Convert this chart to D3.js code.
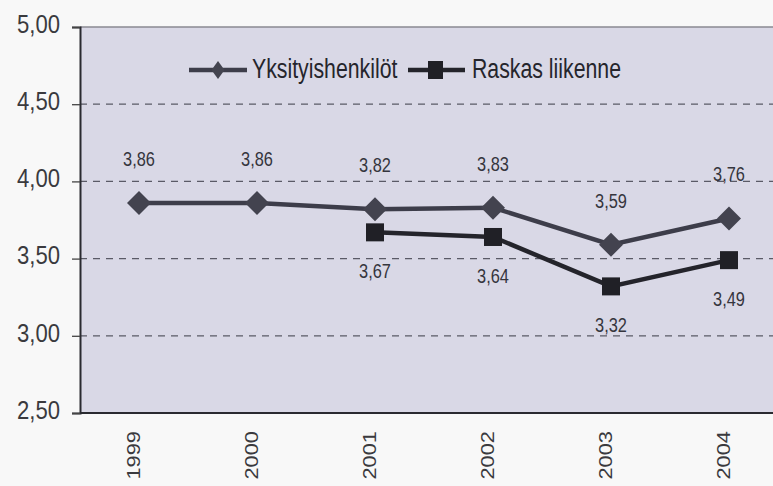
<!DOCTYPE html>
<html>
<head>
<meta charset="utf-8">
<script src="https://cdn.jsdelivr.net/npm/d3@7"></script>
<style>
  body { margin: 0; background: #f8f8f8; }
  svg { display: block; }
</style>
</head>
<body>
<div id="chart"></div>
<script>
// data
const years = ["1999", "2000", "2001", "2002", "2003", "2004"];
const privateVals = [3.86, 3.86, 3.82, 3.83, 3.59, 3.76];
const heavyVals = [null, null, 3.67, 3.64, 3.32, 3.49];
const yTicks = [2.5, 3.0, 3.5, 4.0, 4.5, 5.0];
const seriesNames = ["Yksityishenkilöt", "Raskas liikenne"];

const width = 773, height = 486;
const margin = {top: 27, left: 80, bottom: 413};
const bandW = 118;

const font = "'Liberation Sans', Arial, sans-serif";

const svg = d3.select("#chart").append("svg")
    .attr("width", width)
    .attr("height", height);

// x: one band per year, the last band runs past the window edge
let x = d3.scaleBand()
    .domain(years)
    .range([margin.left, margin.left + bandW * years.length]);

let y = d3.scaleLinear()
    .domain([2.5, 5.0])
    .range([margin.bottom, margin.top]);

const fmt = v => d3.format(".2f")(v).replace(".", ",");
const cx = d => x(d) + x.bandwidth() / 2;

// plot background
svg.append("rect")
    .attr("x", margin.left)
    .attr("y", margin.top)
    .attr("width", width - margin.left)
    .attr("height", margin.bottom - margin.top)
    .attr("fill", "#d9d8e6");

// dashed grid lines
svg.selectAll(".grid")
    .data(yTicks.filter(t => t > 2.5 && t < 5))
    .enter().append("line")
    .attr("x1", margin.left)
    .attr("x2", width)
    .attr("y1", d => y(d))
    .attr("y2", d => y(d))
    .style("stroke", "#5a5a66")
    .style("stroke-width", 1.3)
    .style("stroke-dasharray", "7,6");

// top border
svg.append("line")
    .attr("x1", margin.left).attr("x2", width)
    .attr("y1", y(5)).attr("y2", y(5))
    .style("stroke", "#8a8a92").style("stroke-width", 1.5);

// y axis (labels are drawn a bit condensed like the scan)
const yAxis = svg.append("g")
    .attr("transform", "translate(" + margin.left + ",0)")
    .call(d3.axisLeft(y).tickValues(yTicks).tickFormat(fmt).tickSize(8).tickPadding(12));
yAxis.select(".domain").style("stroke", "#2a2a30").style("stroke-width", 2);
yAxis.selectAll(".tick line").style("stroke", "#444").style("stroke-width", 1.3);
yAxis.selectAll(".tick text").remove();
yAxis.selectAll(".tick").append("text")
    .attr("transform", "translate(-20,0) scale(0.85,1)")
    .attr("dy", "0.2em")
    .attr("text-anchor", "end")
    .style("font-family", font)
    .style("font-size", "26px")
    .style("fill", "#3a3a3e")
    .text(d => fmt(d));

// x axis baseline
svg.append("line")
    .attr("x1", margin.left).attr("x2", width)
    .attr("y1", margin.bottom).attr("y2", margin.bottom)
    .style("stroke", "#2a2a30").style("stroke-width", 2);

// year labels, rotated
svg.selectAll(".year")
    .data(years)
    .enter().append("text")
    .attr("transform", d => "translate(" + (cx(d) + 1) + "," + (margin.bottom + 18) + ") rotate(-90) scale(1.15,1)")
    .attr("text-anchor", "end")
    .style("font-family", font)
    .style("font-size", "19px")
    .style("fill", "#3a3a3e")
    .text(d => d);

// series lines
const line = d3.line()
    .defined(d => d.v !== null)
    .x(d => cx(d.year))
    .y(d => y(d.v));

const privData = years.map((yr, i) => ({year: yr, v: privateVals[i]}));
const heavyData = years.map((yr, i) => ({year: yr, v: heavyVals[i]}));

svg.append("path")
    .datum(heavyData)
    .attr("d", line)
    .attr("fill", "none")
    .style("stroke", "#24242b")
    .style("stroke-width", 4.5);

svg.append("path")
    .datum(privData)
    .attr("d", line)
    .attr("fill", "none")
    .style("stroke", "#3d3d4a")
    .style("stroke-width", 4.5);

svg.selectAll(".sq")
    .data(heavyData.filter(d => d.v !== null))
    .enter().append("rect")
    .attr("x", d => cx(d.year) - 9)
    .attr("y", d => y(d.v) - 9)
    .attr("width", 18)
    .attr("height", 18)
    .attr("fill", "#202026");

const diamond = d3.symbol().type(d3.symbolSquare).size(289);

svg.selectAll(".dia")
    .data(privData)
    .enter().append("path")
    .attr("d", diamond)
    .attr("transform", d => "translate(" + cx(d.year) + "," + y(d.v) + ") rotate(45)")
    .attr("fill", "#43434f");

// value labels (condensed)
svg.selectAll(".lblP")
    .data(privData)
    .enter().append("text")
    .attr("transform", d => "translate(" + cx(d.year) + "," + (y(d.v) - 37) + ") scale(0.78,1)")
    .attr("text-anchor", "middle")
    .style("font-family", font)
    .style("font-size", "21px")
    .style("fill", "#35353d")
    .text(d => fmt(d.v));

svg.selectAll(".lblH")
    .data(heavyData.filter(d => d.v !== null))
    .enter().append("text")
    .attr("transform", d => "translate(" + cx(d.year) + "," + (y(d.v) + 46) + ") scale(0.78,1)")
    .attr("text-anchor", "middle")
    .style("font-family", font)
    .style("font-size", "21px")
    .style("fill", "#35353d")
    .text(d => fmt(d.v));

// legend
const legend = svg.append("g").attr("transform", "translate(189,70)");
legend.append("line").attr("x1", 0).attr("x2", 58).attr("y1", 0).attr("y2", 0)
    .style("stroke", "#3d3d4a").style("stroke-width", 4.5);
legend.append("path").attr("d", "M0,-9L6.5,0L0,9L-6.5,0Z")
    .attr("transform", "translate(29,0)").attr("fill", "#43434f");
legend.append("text")
    .attr("transform", "translate(63,8) scale(0.76,1)")
    .style("font-family", font).style("font-size", "28px").style("fill", "#25252c")
    .text(seriesNames[0]);
legend.append("line").attr("x1", 219).attr("x2", 276).attr("y1", 0).attr("y2", 0)
    .style("stroke", "#24242b").style("stroke-width", 4.5);
legend.append("rect").attr("x", 239).attr("y", -9).attr("width", 15).attr("height", 18)
    .attr("fill", "#202026");
legend.append("text")
    .attr("transform", "translate(283,8) scale(0.76,1)")
    .style("font-family", font).style("font-size", "28px").style("fill", "#25252c")
    .text(seriesNames[1]);
</script>
</body>
</html>
